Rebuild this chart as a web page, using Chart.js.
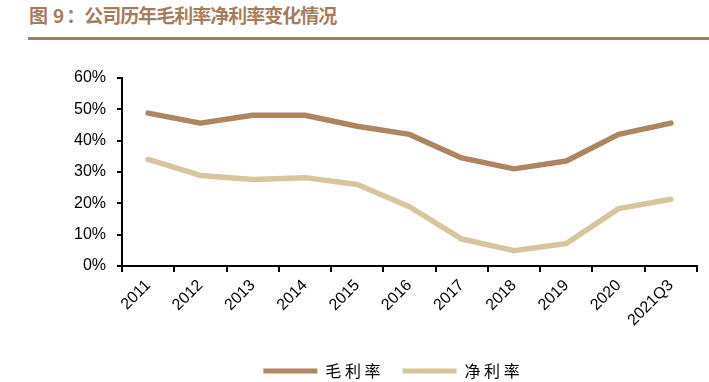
<!DOCTYPE html>
<html>
<head>
<meta charset="utf-8">
<script src="https://cdn.jsdelivr.net/npm/chart.js@4.4.1/dist/chart.umd.min.js"></script>
<style>
  html, body { margin: 0; padding: 0; background: #fff; overflow: hidden; }
  #wrap { position: relative; width: 709px; height: 382px; overflow: hidden; }
  #title {
    position: absolute; left: 29px; top: 1px;
    font-family: "Noto Sans CJK SC", sans-serif; font-weight: bold;
    font-size: 19px; color: #A47D5E; letter-spacing: -1px; white-space: nowrap;
  }
  #title .num { margin: 0 3px 0 6px; }
  #rule { position: absolute; left: 28px; top: 37px; width: 681px; height: 3px; background: #A47D60; }
  #marginChart { position: absolute; left: 0; top: 0; }
</style>
</head>
<body>
<div id="wrap">
  <div id="title">图<span class="num">9</span>：公司历年毛利率净利率变化情况</div>
  <div id="rule"></div>
  <canvas id="marginChart" width="709" height="389"></canvas>
</div>
<script>
const years = ['2011', '2012', '2013', '2014', '2015', '2016', '2017', '2018', '2019', '2020', '2021Q3'];
const grossMargin = [48.8, 45.6, 48.1, 48.1, 44.6, 42.0, 34.5, 31.0, 33.5, 42.0, 45.6];
const netMargin = [34.0, 28.9, 27.6, 28.2, 26.0, 18.9, 8.6, 4.9, 7.2, 18.3, 21.3];
const yTicks = [0, 10, 20, 30, 40, 50, 60];

const ctx = document.getElementById('marginChart').getContext('2d');
const tickFont = { family: '"Liberation Sans", Arial, sans-serif', size: 16 };

// the legend in the original is centred a bit right of the canvas middle
const shiftLegend = {
  id: 'shiftLegend',
  afterLayout(c) {
    if (c.legend) c.legend.left = 86;
  }
};

const chart = new Chart(ctx, {
  type: 'line',
  data: {
    labels: years,
    datasets: [{
      label: '毛利率',
      data: grossMargin,
      borderColor: '#AC8660',
      backgroundColor: '#AC8660',
      borderWidth: 5.5,
      pointRadius: 0,
      tension: 0,
      borderCapStyle: 'round',
      borderJoinStyle: 'round'
    }, {
      label: '净利率',
      data: netMargin,
      borderColor: '#D6C59D',
      backgroundColor: '#D6C59D',
      borderWidth: 5.5,
      pointRadius: 0,
      tension: 0,
      borderCapStyle: 'round',
      borderJoinStyle: 'round'
    }]
  },
  plugins: [shiftLegend],
  options: {
    responsive: false,
    animation: false,
    devicePixelRatio: 1,
    layout: { padding: { top: 78, right: 12, left: 0, bottom: 0 } },
    plugins: {
      tooltip: { enabled: false },
      legend: {
        position: 'bottom',
        labels: {
          boxWidth: 54,
          boxHeight: 5,
          padding: 22,
          color: '#000',
          font: { family: '"Noto Sans CJK SC", sans-serif', size: 16 },
          generateLabels: (c) => c.data.datasets.map((ds, i) => ({
            text: ds.label.split('').join(' '),
            fillStyle: ds.borderColor,
            strokeStyle: ds.borderColor,
            lineWidth: 0,
            datasetIndex: i
          }))
        }
      }
    },
    scales: {
      x: {
        offset: true,
        afterFit: (scale) => { scale.height = 75; },
        border: { color: '#000', width: 2 },
        grid: { display: true, drawOnChartArea: false, color: '#000', lineWidth: 2, tickLength: 6, offset: true },
        ticks: {
          color: '#000',
          maxRotation: 45,
          minRotation: 45,
          padding: 4,
          font: tickFont
        }
      },
      y: {
        min: 0,
        max: 60,
        afterFit: (scale) => { scale.width = 122; },
        afterBuildTicks: (scale) => { scale.ticks = yTicks.map(v => ({ value: v })); },
        border: { color: '#000', width: 2 },
        grid: { display: true, drawOnChartArea: false, color: '#000', lineWidth: 2, tickLength: 5 },
        ticks: {
          color: '#000',
          padding: 11,
          font: tickFont,
          callback: (v) => v + '%'
        }
      }
    }
  }
});
</script>
</body>
</html>
